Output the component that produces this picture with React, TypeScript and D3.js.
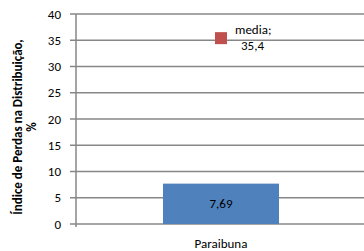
import { scaleBand, scaleLinear } from 'd3'

const categories = ['Paraibuna']
const barValues = [7.69]
const barLabels = ['7,69']
const mediaValue = 35.4
const mediaLabel = ['media;', '35,4']
const yTicks = [0, 5, 10, 15, 20, 25, 30, 35, 40]
const yTitle = ['Índice de Perdas na Distribuição,', '%']

const WIDTH = 364
const HEIGHT = 251
const MARGIN = { top: 14, right: -2, bottom: 27, left: 76 }
const FONT = 'Carlito, Calibri, "Open Sans", sans-serif'
const FS = 13

export default function App() {
  const y = scaleLinear().domain([0, 40]).range([HEIGHT - MARGIN.bottom, MARGIN.top])
  const band = scaleBand().domain(categories).range([MARGIN.left, WIDTH - MARGIN.right])
  const cx = (band(categories[0]) ?? 0) + band.bandwidth() / 2
  const barW = band.bandwidth() / 2.5

  return (
    <svg width={WIDTH} height={HEIGHT} style={{ position: 'fixed', left: 0, top: 0, background: '#fff' }} fontFamily={FONT}>
      {yTicks.map((t) => (
        <g key={t}>
          <line x1={MARGIN.left - 6} x2={WIDTH} y1={y(t)} y2={y(t)} stroke="#878787" strokeWidth={1.5} />
          <text x={61} y={y(t)} dy="0.35em" textAnchor="end" fontSize={FS} fill="#000">
            {t}
          </text>
        </g>
      ))}
      {categories.map((c, i) => {
        const bx = (band(c) ?? 0) + band.bandwidth() / 2 - barW / 2
        return (
          <g key={c}>
            <rect x={bx} y={y(barValues[i])} width={barW} height={y(0) - y(barValues[i])} fill="#4F81BD" />
            <text x={bx + barW / 2} y={(y(barValues[i]) + y(0)) / 2} dy="0.35em" textAnchor="middle" fontSize={FS} fill="#000">
              {barLabels[i]}
            </text>
            <text x={bx + barW / 2} y={248} textAnchor="middle" fontSize={FS} fill="#000">
              {c}
            </text>
          </g>
        )
      })}
      <line x1={MARGIN.left} x2={MARGIN.left} y1={MARGIN.top} y2={y(0) + 3} stroke="#878787" strokeWidth={1.5} />
      <rect x={cx - 6} y={y(mediaValue) - 6} width={12} height={12} fill="#C0504D" />
      <text x={cx + 14} y={y(mediaValue) - 4} fontSize={FS} fill="#000">
        {mediaLabel[0]}
      </text>
      <text x={cx + 20} y={y(mediaValue) + 12} fontSize={FS} fill="#000">
        {mediaLabel[1]}
      </text>
      <text transform={`translate(22, 127) rotate(-90)`} textAnchor="middle" fontSize={FS} fontWeight="bold" fill="#000">
        {yTitle[0]}
      </text>
      <text transform={`translate(36, 127) rotate(-90)`} textAnchor="middle" fontSize={FS} fontWeight="bold" fill="#000">
        {yTitle[1]}
      </text>
    </svg>
  )
}
